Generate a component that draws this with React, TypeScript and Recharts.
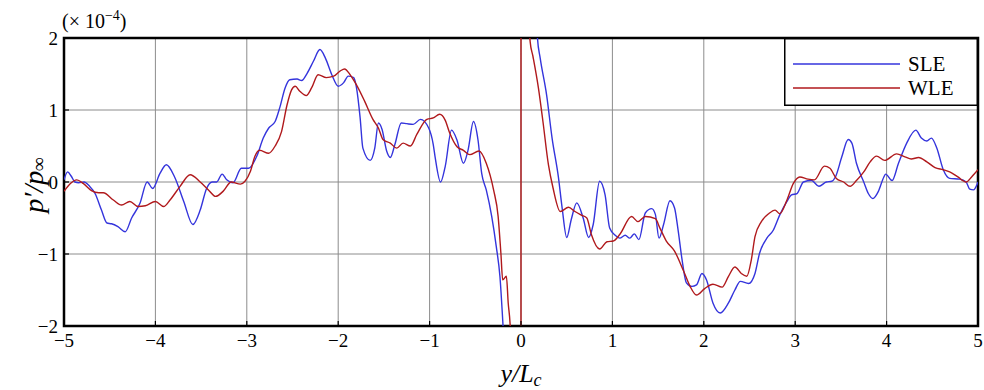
import React from "react"
import {
  LineChart,
  Line,
  XAxis,
  YAxis,
  CartesianGrid,
  ReferenceArea,
} from "recharts"

// ── Data ──────────────────────────────────────────────────────────────────────
// y/Lc positions and p'/p∞ (×1e-4)

const sleX = [
  -5.0, -4.96, -4.92, -4.88, -4.84, -4.78, -4.72, -4.66, -4.59, -4.53, -4.48, -4.41, -4.33, -4.26, -4.17, -4.09,
  -4.03, -3.95, -3.88, -3.79, -3.69, -3.59, -3.51, -3.44, -3.38, -3.33, -3.27, -3.22, -3.15, -3.06, -2.98, -2.89,
  -2.82, -2.76, -2.69, -2.64, -2.58, -2.53, -2.45, -2.4, -2.34, -2.27, -2.2, -2.14, -2.07, -2.0, -1.94, -1.89,
  -1.83, -1.8, -1.76, -1.73, -1.65, -1.6, -1.56, -1.52, -1.47, -1.43, -1.38, -1.31, -1.25, -1.18, -1.1, -1.01,
  -0.96, -0.94, -0.88, -0.83, -0.76, -0.7, -0.63, -0.58, -0.52, -0.47, -0.43, -0.38, -0.32, -0.27, -0.23, -0.2,
  -0.17, -0.14, 0, 0.14, 0.16, 0.18, 0.21, 0.28, 0.34, 0.41, 0.45, 0.5, 0.55, 0.61, 0.68, 0.74, 0.79, 0.86, 0.92,
  0.97, 1.03, 1.08, 1.14, 1.19, 1.24, 1.29, 1.36, 1.43, 1.47, 1.51, 1.56, 1.63, 1.68, 1.72, 1.76, 1.81, 1.87,
  1.92, 1.98, 2.03, 2.1, 2.18, 2.27, 2.34, 2.4, 2.49, 2.56, 2.61, 2.69, 2.76, 2.83, 2.91, 2.96, 3.02, 3.09, 3.18,
  3.26, 3.34, 3.4, 3.44, 3.51, 3.58, 3.62, 3.67, 3.75, 3.8, 3.85, 3.91, 3.97, 3.99, 4.06, 4.13, 4.22, 4.32, 4.38,
  4.44, 4.49, 4.55, 4.62, 4.69, 4.8, 4.87, 4.91, 4.95, 5.0,
]
const sleY = [
  0.03, 0.14, 0.08, 0.0, -0.01, 0.0, -0.06, -0.16, -0.39, -0.57, -0.58, -0.62, -0.69, -0.5, -0.3, 0.0,
  -0.09, 0.12, 0.24, 0.07, -0.27, -0.59, -0.39, -0.09, 0.0, 0.0, 0.11, 0.03, -0.01, 0.19, 0.19, 0.36,
  0.61, 0.75, 0.84, 1.03, 1.31, 1.42, 1.43, 1.41, 1.51, 1.68, 1.84, 1.72, 1.49, 1.33, 1.38, 1.47,
  1.45, 1.31, 0.89, 0.47, 0.3, 0.47, 0.82, 0.73, 0.43, 0.34, 0.52, 0.82, 0.81, 0.8, 0.87, 0.75,
  0.52, 0.35, 0.0, 0.21, 0.72, 0.58, 0.26, 0.44, 0.84, 0.58, 0.12, -0.11, -0.48, -0.9, -1.32, -1.92,
  -2.6, -3.4, null, 3.4, 2.5, 2.0, 1.72, 1.21, 0.61, 0.06, -0.36, -0.77, -0.52, -0.29, -0.5, -0.77, -0.59, 0.01, -0.18,
  -0.64, -0.74, -0.78, -0.74, -0.78, -0.72, -0.8, -0.43, -0.37, -0.45, -0.78, -0.59, -0.26, -0.36, -0.68, -1.06, -1.4, -1.45,
  -1.43, -1.27, -1.36, -1.68, -1.82, -1.68, -1.5, -1.38, -1.41, -1.27, -0.99, -0.78, -0.67, -0.46, -0.27, -0.18, -0.16, 0.0, 0.02,
  -0.06, 0.0, 0.01, 0.07, 0.35, 0.59, 0.54, 0.26, 0.0, -0.16, -0.23, -0.13, 0.07, 0.11, 0.02, 0.26, 0.54, 0.72, 0.61,
  0.57, 0.61, 0.47, 0.17, 0.05, 0.04, 0.0, -0.1, -0.11, 0.0,
]

const wleX = [
  -5.0, -4.93, -4.86, -4.79, -4.7, -4.62, -4.57, -4.46, -4.37, -4.28, -4.19, -4.11, -4.0, -3.91, -3.84, -3.73,
  -3.62, -3.51, -3.42, -3.34, -3.26, -3.17, -3.07, -3.02, -2.96, -2.91, -2.86, -2.76, -2.69, -2.62, -2.56, -2.51,
  -2.47, -2.42, -2.35, -2.29, -2.22, -2.13, -2.05, -1.98, -1.93, -1.87, -1.8, -1.71, -1.62, -1.56, -1.51, -1.43,
  -1.36, -1.29, -1.21, -1.14, -1.03, -0.96, -0.89, -0.83, -0.78, -0.7, -0.63, -0.56, -0.46, -0.38, -0.3, -0.25,
  -0.22, -0.2, -0.16, -0.14, -0.12, -0.09, -0.0005, 0.0005, 0.08, 0.1, 0.13, 0.19, 0.24, 0.3, 0.35, 0.43, 0.52,
  0.59, 0.66, 0.72, 0.77, 0.86, 0.94, 1.01, 1.08, 1.21, 1.28, 1.36, 1.47, 1.52, 1.59, 1.68, 1.78, 1.85, 1.92,
  2.01, 2.1, 2.2, 2.27, 2.34, 2.41, 2.47, 2.52, 2.56, 2.63, 2.71, 2.78, 2.83, 2.91, 2.98, 3.05, 3.14, 3.21, 3.32,
  3.38, 3.45, 3.53, 3.6, 3.67, 3.75, 3.82, 3.89, 3.98, 4.11, 4.2, 4.27, 4.35, 4.44, 4.53, 4.62, 4.69, 4.78, 4.87,
  4.93, 5.0,
]
const wleY = [
  -0.13, -0.02, 0.03, -0.02, -0.12, -0.15, -0.15, -0.25, -0.32, -0.27, -0.34, -0.33, -0.27, -0.34, -0.25, -0.06,
  0.1, 0.0, -0.11, -0.2, -0.13, 0.0, -0.03, 0.01, 0.15, 0.36, 0.44, 0.4, 0.5, 0.7, 1.07, 1.28,
  1.33, 1.26, 1.2, 1.31, 1.49, 1.45, 1.47, 1.54, 1.57, 1.49, 1.35, 1.12, 0.87, 0.75, 0.59, 0.54,
  0.47, 0.54, 0.5, 0.66, 0.87, 0.89, 0.94, 0.86, 0.68, 0.49, 0.44, 0.38, 0.43, 0.26, -0.11, -0.48,
  -0.99, -1.36, -1.31, -1.68, -1.96, -3.0, -40, 40, 2.6, 1.95, 1.75, 1.31, 0.84, 0.24, -0.08, -0.41, -0.35,
  -0.41, -0.46, -0.5, -0.73, -0.93, -0.83, -0.82, -0.73, -0.48, -0.55, -0.48, -0.51, -0.64, -0.82, -0.96, -1.24, -1.45, -1.57,
  -1.48, -1.42, -1.46, -1.31, -1.18, -1.27, -1.31, -1.08, -0.76, -0.55, -0.44, -0.39, -0.44, -0.25, -0.02, 0.07, 0.04, 0.03, 0.22,
  0.19, 0.05, 0.0, -0.06, 0.02, 0.14, 0.28, 0.36, 0.3, 0.39, 0.35, 0.32, 0.34, 0.28, 0.2, 0.17, 0.14, 0.07, 0.0,
  0.07, 0.17,
]

const xTicks = [-5, -4, -3, -2, -1, 0, 1, 2, 3, 4, 5]
const yTicks = [-2, -1, 0, 1, 2]

const SLE_COLOR = "#3434dc"
const WLE_COLOR = "#b0191c"
const FONT = "'Liberation Serif', 'Times New Roman', serif"

const sleData = sleX.map((x, i) => ({ x, y: sleY[i] }))
const wleData = wleX.map((x, i) => ({ x, y: wleY[i] }))

const fmt = (v: number) => (v < 0 ? `\u2212${Math.abs(v)}` : String(v))

// ── Ticks (inner tick marks like the original) ───────────────────────────────

function XTick({ x, y, payload }: any) {
  return (
    <g>
      <line x1={x} x2={x} y1={y} y2={y - 5} stroke="#000" strokeWidth={1.2} />
      <text x={x} y={y + 21} textAnchor="middle" fontFamily={FONT} fontSize={19} fill="#000">
        {fmt(payload.value)}
      </text>
    </g>
  )
}

function YTick({ x, y, payload }: any) {
  return (
    <g>
      <line x1={x} x2={x + 5} y1={y} y2={y} stroke="#000" strokeWidth={1.2} />
      <text x={x - 6} y={y + 6.5} textAnchor="end" fontFamily={FONT} fontSize={19} fill="#000">
        {fmt(payload.value)}
      </text>
    </g>
  )
}

// ── Axis titles ───────────────────────────────────────────────────────────────

function XLabel({ viewBox }: any) {
  const cx = viewBox.x + viewBox.width / 2
  return (
    <text x={cx} y={viewBox.y + 56} textAnchor="middle" fontFamily={FONT} fontSize={26} fontStyle="italic" fill="#000">
      y/L<tspan fontSize={18} dy={4}>c</tspan>
    </text>
  )
}

function YLabel({ viewBox }: any) {
  const cx = viewBox.x + 25
  const cy = viewBox.y + viewBox.height / 2 + 3
  return (
    <g>
      <text
        x={cx}
        y={cy}
        transform={`rotate(-90 ${cx} ${cy})`}
        textAnchor="middle"
        dominantBaseline="central"
        fontFamily={FONT}
        fontSize={28}
        fontStyle="italic"
        fill="#000"
      >
        p{"\u2032"}/p<tspan fontSize={19} dy={5}>{"\u221e"}</tspan>
      </text>
      <text x={viewBox.x + 54} y={viewBox.y - 10} fontFamily={FONT} fontSize={20} fill="#000">
        ({"\u00d7"} 10<tspan fontSize={14} dy={-8}>{"\u22124"}</tspan><tspan dy={8}>)</tspan>
      </text>
    </g>
  )
}

// ── Legend box (top-right, flush with the frame) ─────────────────────────────

function LegendBox() {
  return (
    <svg width={194} height={68} style={{ position: "absolute", left: 784, top: 38 }}>
      <rect x={0.75} y={0.75} width={192.5} height={66.5} fill="#fff" stroke="#000" strokeWidth={1.5} />
      <line x1={9} x2={116} y1={26} y2={26} stroke={SLE_COLOR} strokeWidth={1.4} />
      <text x={124} y={33} fontFamily={FONT} fontSize={21} fill="#000">SLE</text>
      <line x1={9} x2={116} y1={50} y2={50} stroke={WLE_COLOR} strokeWidth={1.4} />
      <text x={124} y={57} fontFamily={FONT} fontSize={21} fill="#000">WLE</text>
    </svg>
  )
}

export default function App() {
  return (
    <div style={{ position: "relative", width: 984, height: 390, overflow: "hidden" }}>
      <style>{"body { margin: 0; }"}</style>
      <LineChart width={984} height={390} margin={{ top: 38, right: 6, bottom: 34, left: 8 }}>
        <CartesianGrid stroke="#8c8c8c" strokeWidth={1} />
        <XAxis
          type="number"
          dataKey="x"
          domain={[-5, 5]}
          ticks={xTicks}
          allowDataOverflow
          axisLine={false}
          tickLine={false}
          tickSize={0}
          tickMargin={0}
          height={30}
          tick={<XTick />}
          label={<XLabel />}
        />
        <YAxis
          type="number"
          dataKey="y"
          domain={[-2, 2]}
          ticks={yTicks}
          allowDataOverflow
          axisLine={false}
          tickLine={false}
          tickSize={0}
          tickMargin={0}
          width={56}
          tick={<YTick />}
          label={<YLabel />}
        />
        <Line
          data={sleData}
          dataKey="y"
          type="monotone"
          stroke={SLE_COLOR}
          strokeWidth={1.4}
          dot={false}
          activeDot={false}
          isAnimationActive={false}
        />
        <Line
          data={wleData}
          dataKey="y"
          type="monotone"
          stroke={WLE_COLOR}
          strokeWidth={1.4}
          dot={false}
          activeDot={false}
          isAnimationActive={false}
        />
        <ReferenceArea x1={-5} x2={5} y1={-2} y2={2} fill="none" stroke="#000" strokeWidth={2.5} />
      </LineChart>
      <LegendBox />
    </div>
  )
}
